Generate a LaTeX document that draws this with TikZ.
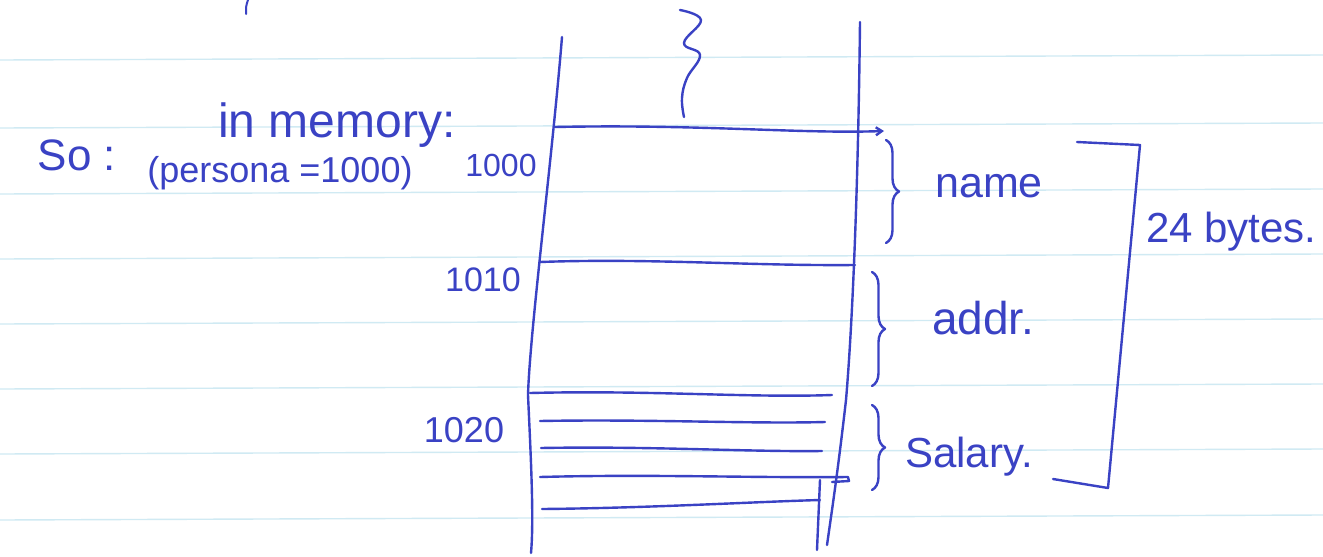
\documentclass[tikz,border=0pt]{standalone}
\usepackage{fontspec}
\setmainfont{Liberation Sans}
\usetikzlibrary{arrows.meta,decorations.pathreplacing}
\definecolor{ink}{RGB}{58,66,196}
\definecolor{rule}{RGB}{208,234,243}
\tikzset{
  ink/.style={draw=ink, line width=2.4pt, line cap=round, line join=round},
  ruled/.style={draw=rule, line width=1.4pt},
  hand/.style={text=ink, inner sep=0pt, font=\fontsize{40}{44}\selectfont},
  num/.style={text=ink, inner sep=0pt, font=\fontsize{32}{36}\selectfont},
  bracebox/.style={ink, decorate, decoration={brace, amplitude=13pt}},
}
\begin{document}
\begin{tikzpicture}[x=1pt, y=-1pt]
\useasboundingbox (0,0) rectangle (1323,557);
\fill[white] (0,0) rectangle (1323,557);
% ruled paper lines
\foreach \yy in {60,128,194,259,324,389,454,520}
  \draw[ruled] (0,\yy) -- (1323,\yy-5);
% fragment of previous line
\draw[ink, line width=2pt] (248,0) .. controls (246,6) .. (246,14);
% texts on the left
\node[hand, font=\fontsize{44}{48}\selectfont] (so) at (77,155) {So :};
\node[hand, font=\fontsize{48}{52}\selectfont] (inmem) at (337,125) {in memory:};
\node[num, font=\fontsize{36}{40}\selectfont] (persona) at (280,173) {(persona =1000)};
% addresses
\node[num] (a1000) at (501,165) {1000};
\node[num, font=\fontsize{34}{38}\selectfont] (a1010) at (483,280) {1010};
\node[num, font=\fontsize{36}{40}\selectfont] (a1020) at (464,430) {1020};
% memory column
\coordinate (lt) at (562,37);
\coordinate (lb) at (531,553);
\draw[ink] (lt) .. controls (552,160) and (530,330) .. (528,395) .. controls (531,460) and (534,520) .. (lb);
\coordinate (rt) at (860,22);
\coordinate (rb) at (827,545);
\draw[ink] (rt) .. controls (858,200) and (852,330) .. (846,400) .. controls (838,470) and (832,510) .. (rb);
\draw[ink] (820,480) -- (817,550);
% squiggle
\draw[ink] plot[smooth, tension=0.7] coordinates {(680,10) (701,20) (684,43) (700,55) (687,78) (682,98) (684,117)};
% row boundaries
\coordinate (r0l) at (555,127);
\coordinate (r0r) at (884,131);
\draw[ink, -{Straight Barb[length=6pt, width=8pt]}] (r0l) .. controls (700,124) and (800,134) .. (r0r);
\draw[ink] (540,262) .. controls (650,258) and (750,266) .. (855,265);
\draw[ink] (530,393) .. controls (650,390) and (750,398) .. (832,395);
\draw[ink] (540,421) .. controls (650,419) and (750,424) .. (825,422);
\draw[ink] (541,448) .. controls (650,446) and (750,452) .. (822,451);
\draw[ink] (540,477) .. controls (650,474) and (750,478) .. (848,477) -- (849,481) -- (832,482);
\draw[ink] (542,509) .. controls (650,508) and (750,502) .. (820,500);
% braces and labels
\draw[bracebox] (886,140) -- (886,243);
\node[hand, anchor=west, font=\fontsize{43}{47}\selectfont] (name) at (935,186) {name};
\draw[bracebox] (872,272) -- (872,386);
\node[hand, anchor=west, font=\fontsize{46}{50}\selectfont] (addr) at (932,318) {addr.};
\draw[bracebox] (872,405) -- (872,490);
\node[hand, anchor=west, font=\fontsize{42}{46}\selectfont] (salary) at (905,457) {Salary.};
% total bracket
\draw[ink] (1077,142) -- (1140,145) -- (1108,488) -- (1053,479);
\node[hand, anchor=west, font=\fontsize{42}{46}\selectfont] (bytes) at (1146,232) {24 bytes.};
\end{tikzpicture}
\end{document}
